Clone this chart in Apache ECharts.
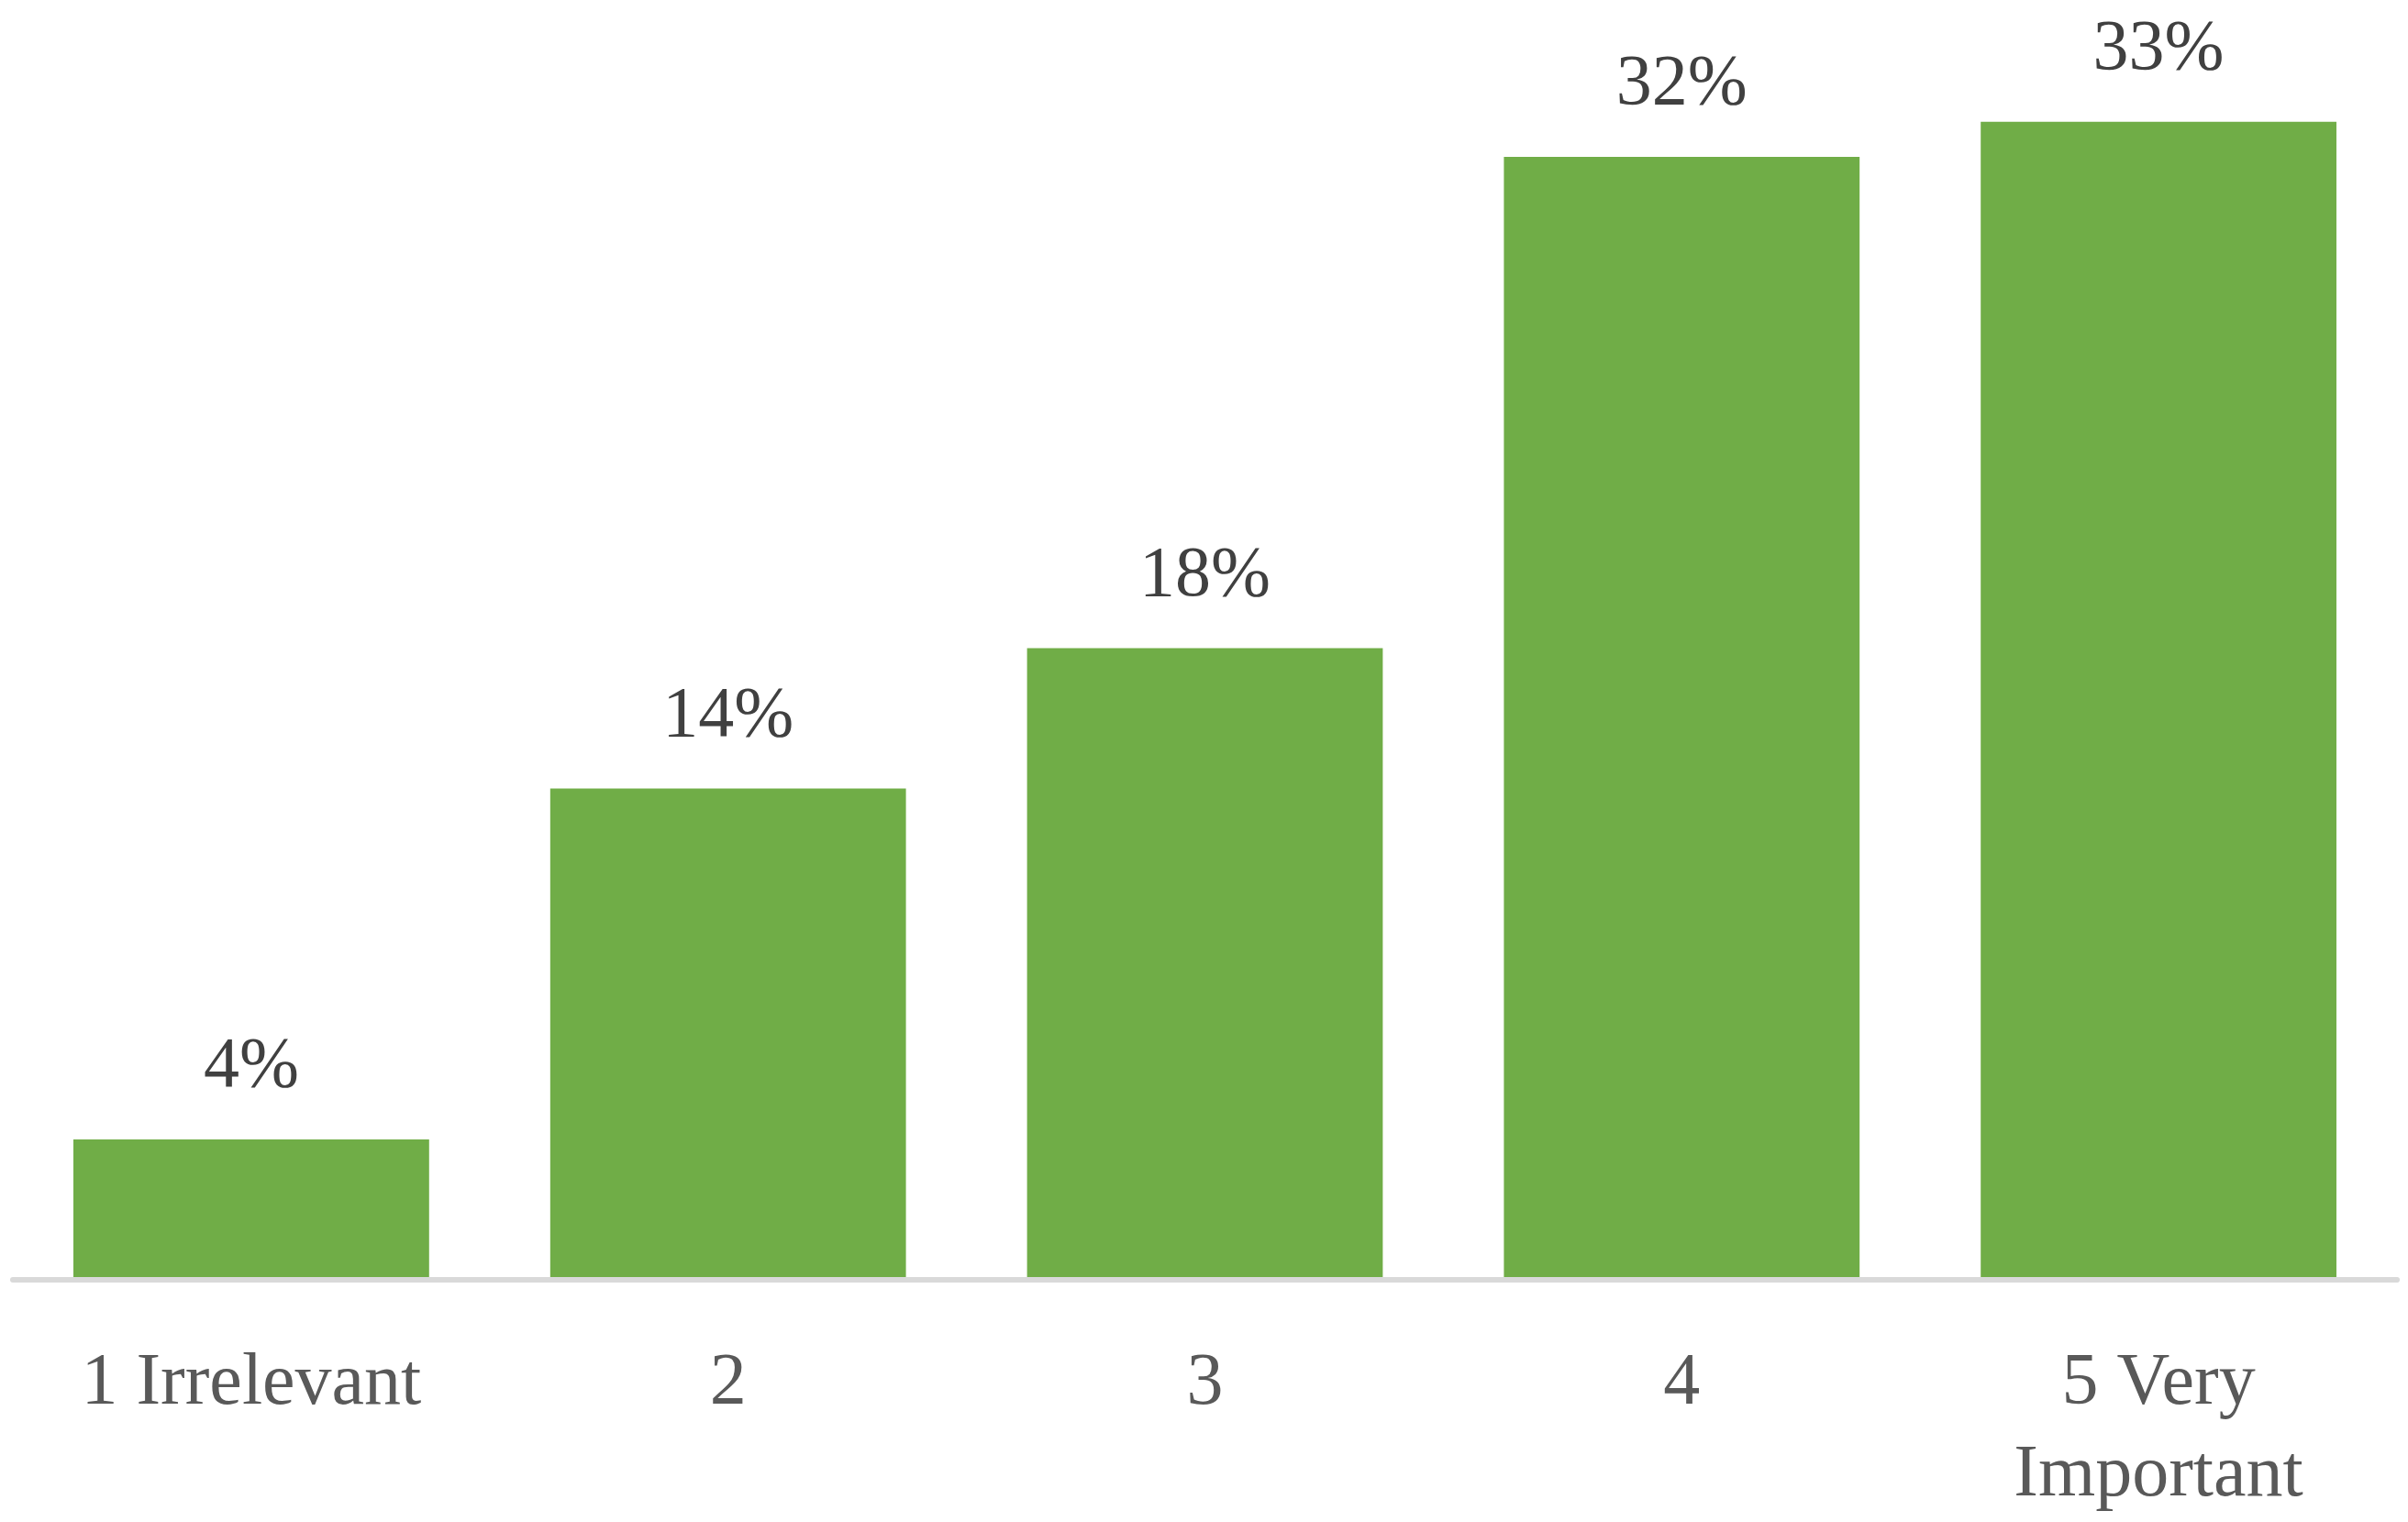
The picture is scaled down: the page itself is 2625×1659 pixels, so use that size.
<!DOCTYPE html>
<html>
<head>
<meta charset="utf-8">
<script src="https://cdn.jsdelivr.net/npm/echarts@6/dist/echarts.min.js"></script>
<style>
  html, body { margin: 0; padding: 0; background: #fff; }
  #main { width: 2625px; height: 1659px; }
</style>
</head>
<body>
<div id="main"></div>
<script>
// 数据
var categories = ['1 Irrelevant', '2', '3', '4', '5 Very\nImportant'];
var values = [4, 14, 18, 32, 33];

var myChart = echarts.init(document.getElementById('main'));

var option = {
  animation: false,
  backgroundColor: '#ffffff',
  grid: {
    left: 14,
    right: 12,
    top: 18,
    bottom: 263
  },
  xAxis: {
    type: 'category',
    data: categories,
    z: 5,
    axisLine: {
      show: true,
      lineStyle: { color: '#d9d9d9', width: 6 }
    },
    axisTick: { show: false },
    axisLabel: {
      color: '#595959',
      fontFamily: 'Liberation Serif',
      fontSize: 80,
      lineHeight: 100,
      margin: 64,
      interval: 0
    }
  },
  yAxis: {
    type: 'value',
    min: 0,
    max: 36,
    show: false,
    splitLine: { show: false }
  },
  series: [{
    type: 'bar',
    data: values,
    barCategoryGap: '25.4%',
    itemStyle: { color: '#70ad47' },
    label: {
      show: true,
      position: 'top',
      distance: 39,
      color: '#404040',
      fontFamily: 'Liberation Serif',
      fontSize: 78,
      lineHeight: 78,
      formatter: function(p) {
        return p.value + '%';
      }
    }
  }]
};

myChart.setOption(option);
</script>
</body>
</html>
